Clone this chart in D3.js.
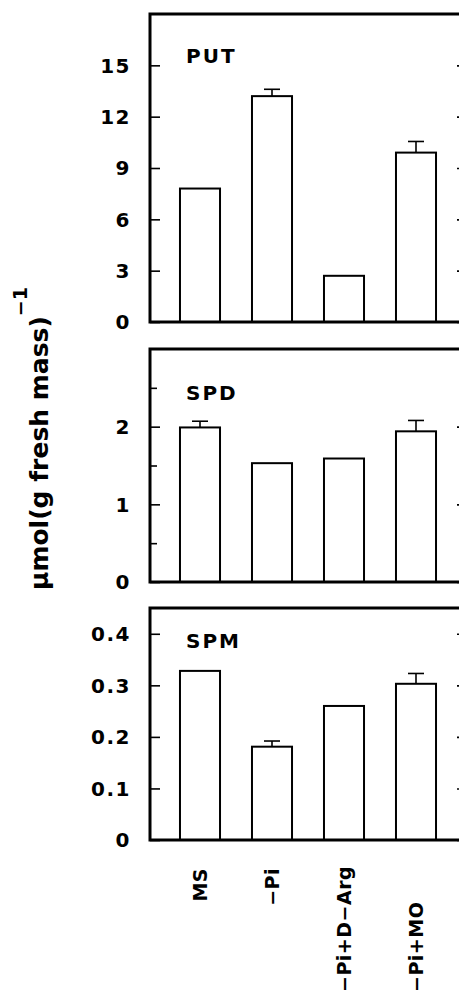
<!DOCTYPE html>
<html>
<head>
<meta charset="utf-8">
<script src="https://cdn.jsdelivr.net/npm/d3@7/dist/d3.min.js"></script>
<style>
  body { margin: 0; background: #fff; }
  text { font-family: "DejaVu Sans", sans-serif; font-weight: bold; fill: #000; }
</style>
</head>
<body>
<script>
  var width = 459;
  var height = 995;

  // treatments along the x axis
  var categories = ['MS', '\u2212Pi', '\u2212Pi+D\u2212Arg', '\u2212Pi+MO'];

  // polyamine contents, µmol (g fresh mass)^-1
  var putValues = [7.8, 13.2, 2.7, 9.9];
  var putErrors = [0, 0.4, 0, 0.65];
  var spdValues = [1.99, 1.53, 1.59, 1.94];
  var spdErrors = [0.08, 0, 0, 0.14];
  var spmValues = [0.328, 0.181, 0.26, 0.303];
  var spmErrors = [0, 0.011, 0, 0.02];

  // tick labels
  var putTicks = [0, 3, 6, 9, 12, 15];
  var spdTicks = [0, 1, 2];
  var spdMinor = [0.5, 1.5, 2.5];
  var spmTicks = [0, 0.1, 0.2, 0.3, 0.4];

  var panels = [
    { name: 'PUT', values: putValues, errors: putErrors, max: 18, top: 14, bottom: 322,
      ticks: putTicks, minor: [], fmt: function(d) { return d; }, labelY: 63 },
    { name: 'SPD', values: spdValues, errors: spdErrors, max: 3, top: 349, bottom: 582,
      ticks: spdTicks, minor: spdMinor, fmt: function(d) { return d; }, labelY: 400 },
    { name: 'SPM', values: spmValues, errors: spmErrors, max: 0.45, top: 608, bottom: 840,
      ticks: spmTicks, minor: [], fmt: function(d) { return d === 0 ? '0' : d3.format('.1f')(d); }, labelY: 648 }
  ];

  var left = 150, right = 467;

  var svg = d3.select('body')
    .append('svg')
    .attr('width', width)
    .attr('height', height);

  var x = d3.scaleBand()
    .domain(categories)
    .range([164, 452])
    .paddingInner(0.444)
    .paddingOuter(0.222);

  panels.forEach(function(p) {
    var y = d3.scaleLinear().domain([0, p.max]).range([p.bottom, p.top]);
    var g = svg.append('g');

    // bars
    g.selectAll('rect.bar')
      .data(p.values)
      .enter()
      .append('rect')
      .attr('class', 'bar')
      .attr('x', function(d, i) { return x(categories[i]); })
      .attr('y', function(d) { return y(d); })
      .attr('width', x.bandwidth())
      .attr('height', function(d) { return y(0) - y(d); })
      .style('fill', '#fff')
      .style('stroke', '#000')
      .style('stroke-width', 2);

    // error bars (upper only)
    p.values.forEach(function(v, i) {
      var e = p.errors[i];
      if (!e) return;
      var cx = x(categories[i]) + x.bandwidth() / 2;
      g.append('line')
        .attr('x1', cx).attr('x2', cx)
        .attr('y1', y(v)).attr('y2', y(v + e))
        .style('stroke', '#000').style('stroke-width', 1.6);
      g.append('line')
        .attr('x1', cx - 8).attr('x2', cx + 8)
        .attr('y1', y(v + e)).attr('y2', y(v + e))
        .style('stroke', '#000').style('stroke-width', 1.6);
    });

    // inward ticks on the left and right frame
    var yAxis = d3.axisRight(y).tickValues(p.ticks).tickSize(10).tickFormat('');
    g.append('g').attr('transform', 'translate(' + left + ',0)').call(yAxis);
    var yAxisR = d3.axisLeft(y).tickValues(p.ticks).tickSize(10).tickFormat('');
    g.append('g').attr('transform', 'translate(' + right + ',0)').call(yAxisR);
    if (p.minor.length) {
      g.append('g').attr('transform', 'translate(' + left + ',0)')
        .call(d3.axisRight(y).tickValues(p.minor).tickSize(7).tickFormat(''));
    }
    g.selectAll('.domain').remove();
    g.selectAll('.tick line').style('stroke', '#000').style('stroke-width', 1.6);

    // tick labels
    g.selectAll('text.tl')
      .data(p.ticks)
      .enter()
      .append('text')
      .attr('class', 'tl')
      .attr('x', 131)
      .attr('y', function(d) { return y(d); })
      .attr('dy', '0.36em')
      .attr('text-anchor', 'end')
      .style('font-size', '20px')
      .style('letter-spacing', '1.5px')
      .text(p.fmt);

    // frame
    g.append('rect')
      .attr('x', left)
      .attr('y', p.top)
      .attr('width', right - left)
      .attr('height', p.bottom - p.top)
      .style('fill', 'none')
      .style('stroke', '#000')
      .style('stroke-width', 3);

    // panel label
    g.append('text')
      .attr('x', 186)
      .attr('y', p.labelY)
      .style('font-size', '20px')
      .style('letter-spacing', '2px')
      .text(p.name);
  });

  // category labels under the bottom panel
  svg.selectAll('text.cat')
    .data(categories)
    .enter()
    .append('text')
    .attr('class', 'cat')
    .attr('transform', function(d) {
      var cx = x(d) + x.bandwidth() / 2;
      var yy = d.indexOf('+') >= 0 ? 992 : 868;
      return 'translate(' + cx + ',' + yy + ') rotate(-90)';
    })
    .attr('dy', '0.36em')
    .attr('text-anchor', function(d) { return d.indexOf('+') >= 0 ? 'start' : 'end'; })
    .style('font-size', '19px')
    .style('letter-spacing', '0.5px')
    .text(function(d) { return d; });

  // y axis title
  var title = svg.append('text')
    .attr('transform', 'translate(48,590) rotate(-90)')
    .style('font-size', '25px');
  title.append('tspan').text('\u03bcmol(g fresh mass)');
  title.append('tspan')
    .attr('dy', -21)
    .style('font-size', '19px')
    .text('\u22121');
</script>
</body>
</html>
